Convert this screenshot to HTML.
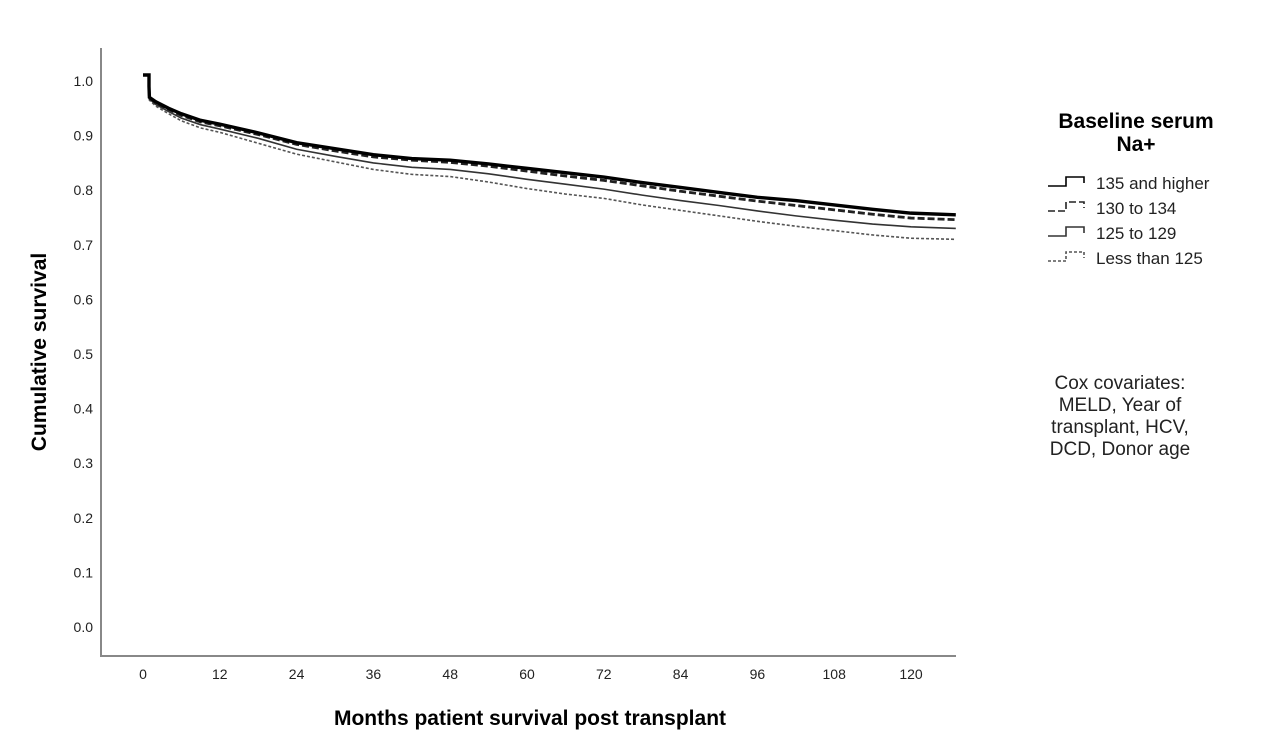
<!DOCTYPE html>
<html><head><meta charset="utf-8"><style>
body{margin:0;background:#fff;font-family:"Liberation Sans",Arial,sans-serif}
</style></head><body>
<svg width="1276" height="751" xmlns="http://www.w3.org/2000/svg" font-family="Liberation Sans, Arial, sans-serif">
<g id="axes"></g>
<g id="series"></g>
<text x="530" y="725" font-size="21" font-weight="bold" text-anchor="middle">Months patient survival post transplant</text>
<text transform="translate(46,352) rotate(-90)" font-size="21" font-weight="bold" text-anchor="middle">Cumulative survival</text>
<g>
<text x="1136" y="128" font-size="21" font-weight="bold" text-anchor="middle">Baseline serum</text>
<text x="1136" y="151" font-size="21" font-weight="bold" text-anchor="middle">Na+</text>
<g id="legend"></g>
</g>
<g font-size="19" text-anchor="middle" fill="#222">
<text x="1120" y="389">Cox covariates:</text>
<text x="1120" y="411">MELD, Year of</text>
<text x="1120" y="433">transplant, HCV,</text>
<text x="1120" y="455">DCD, Donor age</text>
</g>
</svg>
<script>
const months=[0,0.5,1,2,4,6,9,12,18,24,30,36,42,48,54,60,66,72,78,84,90,96,102,108,114,120,127];
const s135=[1.0,0.99,0.97,0.962,0.95,0.94,0.928,0.921,0.905,0.887,0.876,0.865,0.858,0.855,0.848,0.84,0.832,0.824,0.814,0.805,0.796,0.787,0.781,0.773,0.765,0.758,0.755];
const s130=[1.0,0.99,0.969,0.96,0.948,0.937,0.925,0.918,0.902,0.884,0.872,0.861,0.855,0.851,0.844,0.835,0.826,0.818,0.808,0.798,0.789,0.78,0.772,0.764,0.756,0.749,0.746];
const s125=[1.0,0.99,0.967,0.957,0.944,0.932,0.92,0.912,0.895,0.875,0.862,0.85,0.842,0.838,0.83,0.82,0.811,0.802,0.791,0.781,0.772,0.762,0.753,0.745,0.738,0.733,0.73];
const s124=[1.0,0.99,0.965,0.954,0.94,0.927,0.914,0.906,0.886,0.866,0.852,0.838,0.829,0.825,0.815,0.803,0.793,0.785,0.773,0.763,0.753,0.743,0.734,0.726,0.718,0.712,0.71];
const yTicks=[0,0.1,0.2,0.3,0.4,0.5,0.6,0.7,0.8,0.9,1.0];
const xTicks=[0,12,24,36,48,60,72,84,96,108,120];
const legendLabels=["135 and higher","130 to 134","125 to 129","Less than 125"];
const X=m=>143+m*6.4, Y=v=>627-v*546;
const NS="http://www.w3.org/2000/svg";
function mk(t,a,p){const e=document.createElementNS(NS,t);for(const k in a)e.setAttribute(k,a[k]);p.appendChild(e);return e;}
const ax=document.getElementById('axes');
const yl=mk('line',{x1:101,y1:48,x2:101,y2:656,stroke:'#888','stroke-width':2},ax);


const xl=mk('line',{x1:100,y1:656,x2:956,y2:656,stroke:'#888','stroke-width':2},ax);


yTicks.forEach(v=>{const t=mk('text',{x:93,y:Y(v)+5,'font-size':14,'text-anchor':'end',fill:'#222'},ax);t.textContent=v.toFixed(1);

});
xTicks.forEach(v=>{const t=mk('text',{x:X(v),y:679,'font-size':14,'text-anchor':'middle',fill:'#222'},ax);t.textContent=v;

});
const styles=[{c:'#000',w:3.4,d:''},{c:'#222',w:2.8,d:'7,3'},{c:'#333',w:1.6,d:''},{c:'#555',w:1.6,d:'3,2'}];
const data=[s135,s130,s125,s124];
const sg=document.getElementById('series');
data.slice().reverse().forEach((s,ri)=>{const i=3-ri;
let d='M'+X(months[0])+','+(Y(s[0])-6)+' H'+(X(months[0])+6)+' V'+Y(s[1])+' L'+X(months[2])+','+Y(s[2]);
for(let k=3;k<months.length;k++){d+=' L'+X(months[k])+','+Y(s[k]);}
const p=mk('path',{d:d,fill:'none',stroke:styles[i].c,'stroke-width':styles[i].w,'stroke-dasharray':styles[i].d,'stroke-linejoin':'miter'},sg);

});
const lg=document.getElementById('legend');
legendLabels.forEach((l,i)=>{const y=182+i*25;
const p=mk('path',{d:`M1048,${y+4} H1066 V${y-5} H1084 V${y+1}`,fill:'none',stroke:styles[i].c,'stroke-width':Math.min(styles[i].w,1.6),'stroke-dasharray':styles[i].d},lg);


const t=mk('text',{x:1096,y:y+7,'font-size':17,fill:'#222'},lg);t.textContent=l;

});
</script>
</body></html>
